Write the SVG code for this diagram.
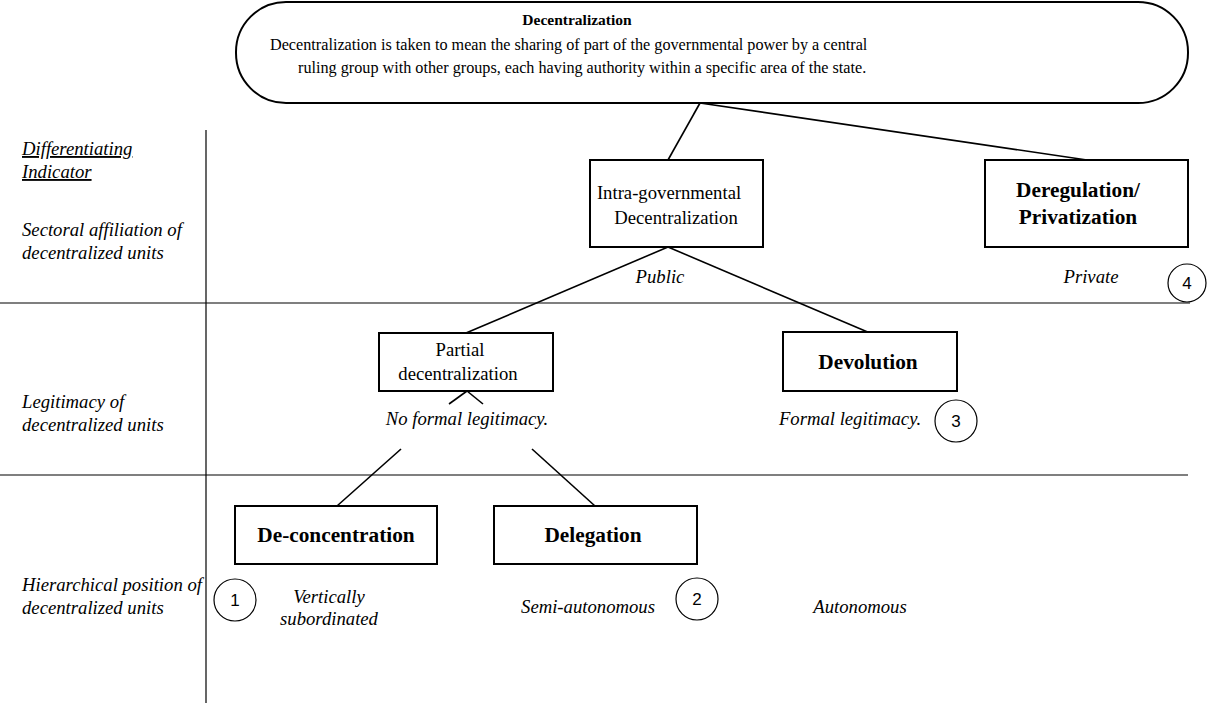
<svg xmlns="http://www.w3.org/2000/svg" width="1209" height="703" viewBox="0 0 1209 703">
<style>
.t{font-family:"Liberation Serif","Times New Roman",serif;fill:#000}
.b{font-weight:bold}
.i{font-style:italic;font-size:18.7px}
.r{font-size:18.7px}
.bb{font-weight:bold;font-size:21.3px}
.box{fill:#fff;stroke:#000;stroke-width:2}
.ln{stroke:#000;stroke-width:1.6;fill:none}
.grid{stroke:#000;stroke-width:1.2;fill:none}
.circ{fill:#fff;stroke:#000;stroke-width:1.2}
.num{font-family:"Liberation Sans",Arial,sans-serif;font-size:17px;fill:#000}
</style>
<rect width="1209" height="703" fill="#fff"/>
<g id="grid">
<line class="grid" x1="206" y1="130" x2="206" y2="703"/>
<line class="grid" x1="0" y1="303" x2="1190" y2="303"/>
<line class="grid" x1="0" y1="475" x2="1188" y2="475" stroke="#777"/>
</g>
<g id="labels">
<text class="t i" x="22" y="155" text-decoration="underline">Differentiating</text>
<text class="t i" x="22" y="178" text-decoration="underline">Indicator</text>
<text class="t i" x="22" y="236">Sectoral affiliation of</text>
<text class="t i" x="22" y="259">decentralized units</text>
<text class="t i" x="22" y="408">Legitimacy of</text>
<text class="t i" x="22" y="431">decentralized units</text>
<text class="t i" x="22" y="591">Hierarchical position of</text>
<text class="t i" x="22" y="614">decentralized units</text>
</g>
<g id="connectors">
<line class="ln" x1="700" y1="103" x2="668" y2="160"/>
<line class="ln" x1="700" y1="103" x2="1087" y2="160"/>
<line class="ln" x1="668" y1="247" x2="466" y2="333"/>
<line class="ln" x1="668" y1="247" x2="870" y2="333"/>
<line class="ln" x1="467" y1="391" x2="449" y2="404"/>
<line class="ln" x1="467" y1="391" x2="483" y2="404"/>
<line class="ln" x1="401" y1="449" x2="337" y2="506"/>
<line class="ln" x1="532" y1="449" x2="595" y2="506"/>
</g>
<g id="decentralization">
<rect class="box" x="236" y="2" width="952" height="101" rx="50" ry="50"/>
<text class="t b" font-size="15.5" x="577" y="25" text-anchor="middle">Decentralization</text>
<text class="t" font-size="16.2" x="270" y="50">Decentralization is taken to mean the sharing of part of the governmental power by a central</text>
<text class="t" font-size="16.2" x="298" y="73">ruling group with other groups, each having authority within a specific area of the state.</text>
</g>
<g id="intra">
<rect class="box" x="590" y="160" width="173" height="87"/>
<text class="t r" x="669" y="199" text-anchor="middle">Intra-governmental</text>
<text class="t r" x="676" y="224" text-anchor="middle">Decentralization</text>
</g>
<g id="dereg">
<rect class="box" x="985" y="160" width="203" height="87"/>
<text class="t bb" x="1078" y="197" text-anchor="middle">Deregulation/</text>
<text class="t bb" x="1078" y="224" text-anchor="middle">Privatization</text>
</g>
<g id="sector-labels">
<text class="t i" x="660" y="283" text-anchor="middle">Public</text>
<text class="t i" x="1091" y="283" text-anchor="middle">Private</text>
</g>
<g id="c4"><circle class="circ" cx="1187" cy="283" r="19"/><text class="num" x="1187" y="289" text-anchor="middle">4</text></g>
<g id="partial">
<rect class="box" x="379" y="333" width="174" height="58"/>
<text class="t r" x="460" y="356" text-anchor="middle">Partial</text>
<text class="t r" x="458" y="380" text-anchor="middle">decentralization</text>
</g>
<g id="devolution">
<rect class="box" x="783" y="332" width="174" height="59"/>
<text class="t bb" x="868" y="369" text-anchor="middle">Devolution</text>
</g>
<g id="legit-labels">
<text class="t i" x="467" y="425" text-anchor="middle">No formal legitimacy.</text>
<text class="t i" x="850" y="425" text-anchor="middle">Formal legitimacy.</text>
</g>
<g id="c3"><circle class="circ" cx="956" cy="421" r="21"/><text class="num" x="956" y="427" text-anchor="middle">3</text></g>
<g id="deconcentration">
<rect class="box" x="235" y="506" width="202" height="58"/>
<text class="t bb" x="336" y="542" text-anchor="middle">De-concentration</text>
</g>
<g id="delegation">
<rect class="box" x="494" y="506" width="203" height="58"/>
<text class="t bb" x="593" y="542" text-anchor="middle">Delegation</text>
</g>
<g id="c1"><circle class="circ" cx="235" cy="600" r="21"/><text class="num" x="235" y="606" text-anchor="middle">1</text></g>
<g id="c2"><circle class="circ" cx="697" cy="599" r="21"/><text class="num" x="697" y="605" text-anchor="middle">2</text></g>
<g id="hier-labels">
<text class="t i" x="329" y="603" text-anchor="middle">Vertically</text>
<text class="t i" x="329" y="625" text-anchor="middle">subordinated</text>
<text class="t i" x="588" y="613" text-anchor="middle">Semi-autonomous</text>
<text class="t i" x="860" y="613" text-anchor="middle">Autonomous</text>
</g>
</svg>
